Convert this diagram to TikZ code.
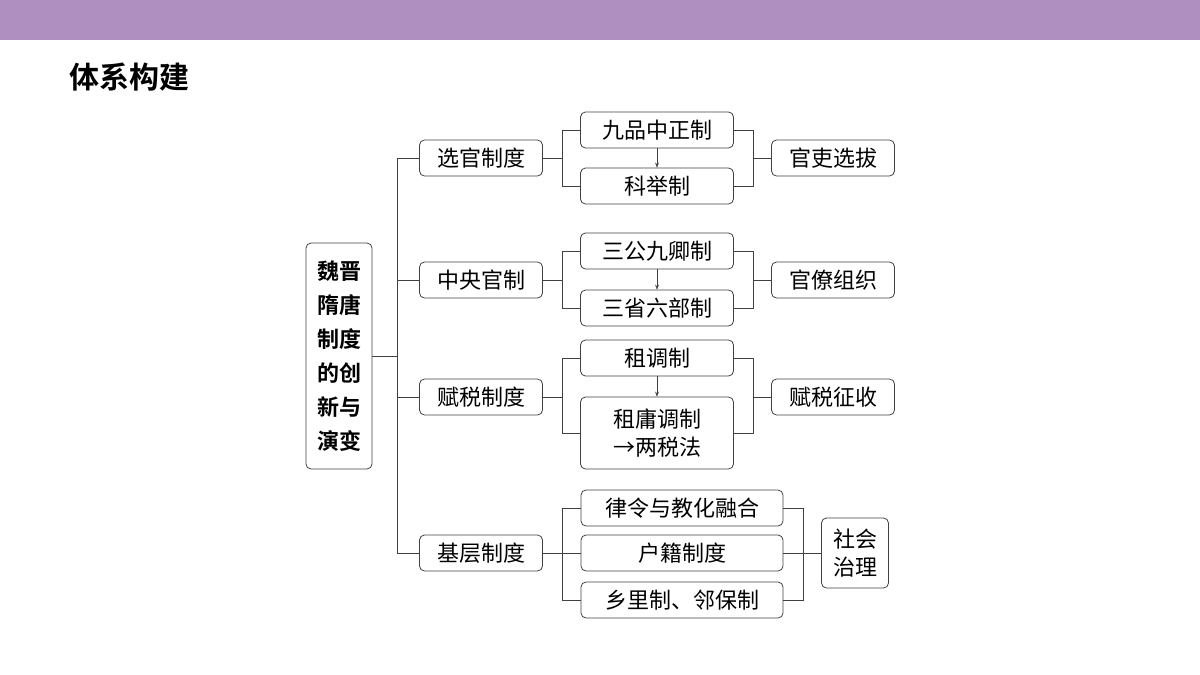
\documentclass[tikz,border=0pt]{standalone}
\usepackage{fontspec}
\setmainfont{Noto Sans CJK SC}
\newfontfamily\cjkbold{Noto Sans CJK SC Bold}
\usetikzlibrary{arrows.meta}
\definecolor{barpurple}{HTML}{AE8FC0}
\definecolor{boxline}{HTML}{404040}
\tikzset{
  box/.style={draw=boxline,thick,rounded corners=5pt,minimum height=36pt,align=center,font=\fontsize{22pt}{28pt}\selectfont,inner sep=2pt},
  link/.style={draw=boxline,thick}
}
\begin{document}
\begin{tikzpicture}[x=1pt,y=-1pt]
    \useasboundingbox (0,0) rectangle (1200,675);
    \fill[barpurple] (0,0) rectangle (1200,40);
    \node (title) at (129,77) [font=\cjkbold\fontsize{30pt}{34pt}\selectfont] {体系构建};

    % root
    \node (root) at (339,356) [box,minimum width=66pt,minimum height=226pt,font=\cjkbold\fontsize{22pt}{34pt}\selectfont] {魏晋\\隋唐\\制度\\的创\\新与\\演变};

    % level one
    \node (a1) at (481,158) [box,minimum width=123pt] {选官制度};
    \node (a2) at (481,280) [box,minimum width=123pt] {中央官制};
    \node (a3) at (481,397) [box,minimum width=123pt] {赋税制度};
    \node (a4) at (481,553) [box,minimum width=123pt] {基层制度};

    % level two
    \node (b1) at (657,130) [box,minimum width=153pt] {九品中正制};
    \node (b2) at (657,186) [box,minimum width=153pt] {科举制};
    \node (b3) at (657,251) [box,minimum width=153pt] {三公九卿制};
    \node (b4) at (657,308) [box,minimum width=153pt] {三省六部制};
    \node (b5) at (657,358) [box,minimum width=153pt] {租调制};
    \node (b6) at (657,433) [box,minimum width=153pt,minimum height=72pt] {租庸调制\\→两税法};
    \node (b7) at (682,508) [box,minimum width=202pt] {律令与教化融合};
    \node (b8) at (682,553) [box,minimum width=202pt] {户籍制度};
    \node (b9) at (682,600) [box,minimum width=202pt] {乡里制、邻保制};

    % level three
    \node (c1) at (833,158) [box,minimum width=123pt] {官吏选拔};
    \node (c2) at (833,280) [box,minimum width=123pt] {官僚组织};
    \node (c3) at (833,397) [box,minimum width=123pt] {赋税征收};
    \node (c4) at (855,553) [box,minimum width=67pt,minimum height=70pt] {社会\\治理};

    % trunk
    \draw[link] (root.east) -- (397,356);
    \draw[link] (a1.west) -| (397,553) -- (a4.west);
    \draw[link] (397,280) -- (a2.west);
    \draw[link] (397,397) -- (a3.west);

    % brackets
    \draw[link] (a1.east) -- (562,158);
    \draw[link] (b1.west) -| (562,186) -- (b2.west);
    \draw[link] (b1.east) -| (753,186) -- (b2.east);
    \draw[link] (753,158) -- (c1.west);
    \draw[link] (a2.east) -- (562,280);
    \draw[link] (b3.west) -| (562,308) -- (b4.west);
    \draw[link] (b3.east) -| (753,308) -- (b4.east);
    \draw[link] (753,280) -- (c2.west);
    \draw[link] (a3.east) -- (562,397);
    \draw[link] (b5.west) -| (562,433) -- (b6.west);
    \draw[link] (b5.east) -| (753,433) -- (b6.east);
    \draw[link] (753,397) -- (c3.west);
    \draw[link] (a4.east) -- (b8.west);
    \draw[link] (b7.west) -| (562,600) -- (b9.west);
    \draw[link] (b7.east) -| (803,600) -- (b9.east);
    \draw[link] (b8.east) -- (c4.west);

    % arrows
    \draw[link,-{Stealth[length=5pt]},thin] (b1) -- (b2);
    \draw[link,-{Stealth[length=5pt]},thin] (b3) -- (b4);
    \draw[link,-{Stealth[length=5pt]},thin] (b5) -- (b6);
\end{tikzpicture}
\end{document}
